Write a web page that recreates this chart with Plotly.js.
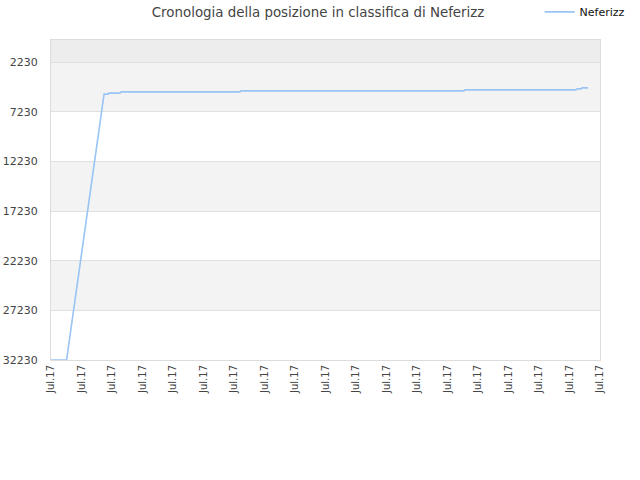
<!DOCTYPE html>
<html>
<head>
<meta charset="utf-8">
<script src="https://cdn.plot.ly/plotly-3.0.1.min.js"></script>
<style>body{margin:0;background:#fff}#chart{width:640px;height:480px}</style>
</head>
<body>
<div id="chart"></div>
<script>
// rank history (lower is better)
var times = [
  '2017-07-05 00:00', '2017-07-05 12:15', '2017-07-06 17:45', '2017-07-06 20:50',
  '2017-07-06 21:35', '2017-07-07 06:15', '2017-07-07 07:10', '2017-07-11 04:50',
  '2017-07-11 05:30', '2017-07-18 13:00', '2017-07-18 13:40', '2017-07-22 05:00',
  '2017-07-22 06:00', '2017-07-22 09:05', '2017-07-22 09:50', '2017-07-22 14:40'
];
var ranks = [
  32230, 32230, 5450, 5450,
  5350, 5350, 5220, 5220,
  5120, 5120, 5020, 5020,
  4920, 4920, 4820, 4820
];
var yTicks = [2230, 7230, 12230, 17230, 22230, 27230, 32230];
var xStart = '2017-07-05';
var xEnd = '2017-07-23';

// alternating background bands
var shapes = [{
  type: 'rect', xref: 'paper', yref: 'y', layer: 'below',
  x0: 0, x1: 1, y0: 0, y1: yTicks[0],
  fillcolor: '#ededed', line: {width: 0}
}];
for (var i = 0; i < yTicks.length - 1; i += 2) {
  shapes.push({
    type: 'rect', xref: 'paper', yref: 'y', layer: 'below',
    x0: 0, x1: 1, y0: yTicks[i], y1: yTicks[i + 1],
    fillcolor: '#f3f3f3', line: {width: 0}
  });
}

var trace = {
  x: times,
  y: ranks,
  type: 'scatter',
  mode: 'lines',
  name: 'Neferizz',
  line: {color: '#99c4f4', width: 1.6}
};

var layout = {
  width: 640, height: 480,
  margin: {l: 51, r: 40, t: 40, b: 120, autoexpand: false},
  paper_bgcolor: '#fff',
  plot_bgcolor: '#fff',
  font: {family: 'DejaVu Sans, Verdana, sans-serif', size: 11, color: '#444'},
  title: {
    text: 'Cronologia della posizione in classifica di Neferizz',
    font: {size: 13.4, color: '#444'},
    x: 0.497, xanchor: 'center', y: 0.975, yanchor: 'middle'
  },
  showlegend: true,
  legend: {
    x: 0.89, xanchor: 'left', y: 1.088, yanchor: 'middle',
    font: {size: 11, color: '#111'},
    itemwidth: 30,
    bgcolor: 'rgba(0,0,0,0)'
  },
  shapes: shapes,
  xaxis: {
    type: 'date',
    range: [xStart, xEnd],
    dtick: 86400000,
    tick0: xStart,
    tickformat: '%b.%y',
    tickangle: -90,
    tickfont: {size: 10, color: '#444'},
    showgrid: false,
    zeroline: false,
    showline: true, linecolor: '#dcdcdc', linewidth: 1, mirror: true,
    ticks: ''
  },
  yaxis: {
    range: [32230, 0],
    tickvals: yTicks,
    ticktext: yTicks.map(String),
    tickfont: {size: 11, color: '#444'},
    showgrid: true, gridcolor: '#e0e0e0', gridwidth: 1,
    zeroline: false,
    showline: true, linecolor: '#dcdcdc', linewidth: 1, mirror: true,
    ticks: '', ticklabelstandoff: 10
  }
};

Plotly.newPlot('chart', [trace], layout, {displayModeBar: false, staticPlot: true});
</script>
</body>
</html>
